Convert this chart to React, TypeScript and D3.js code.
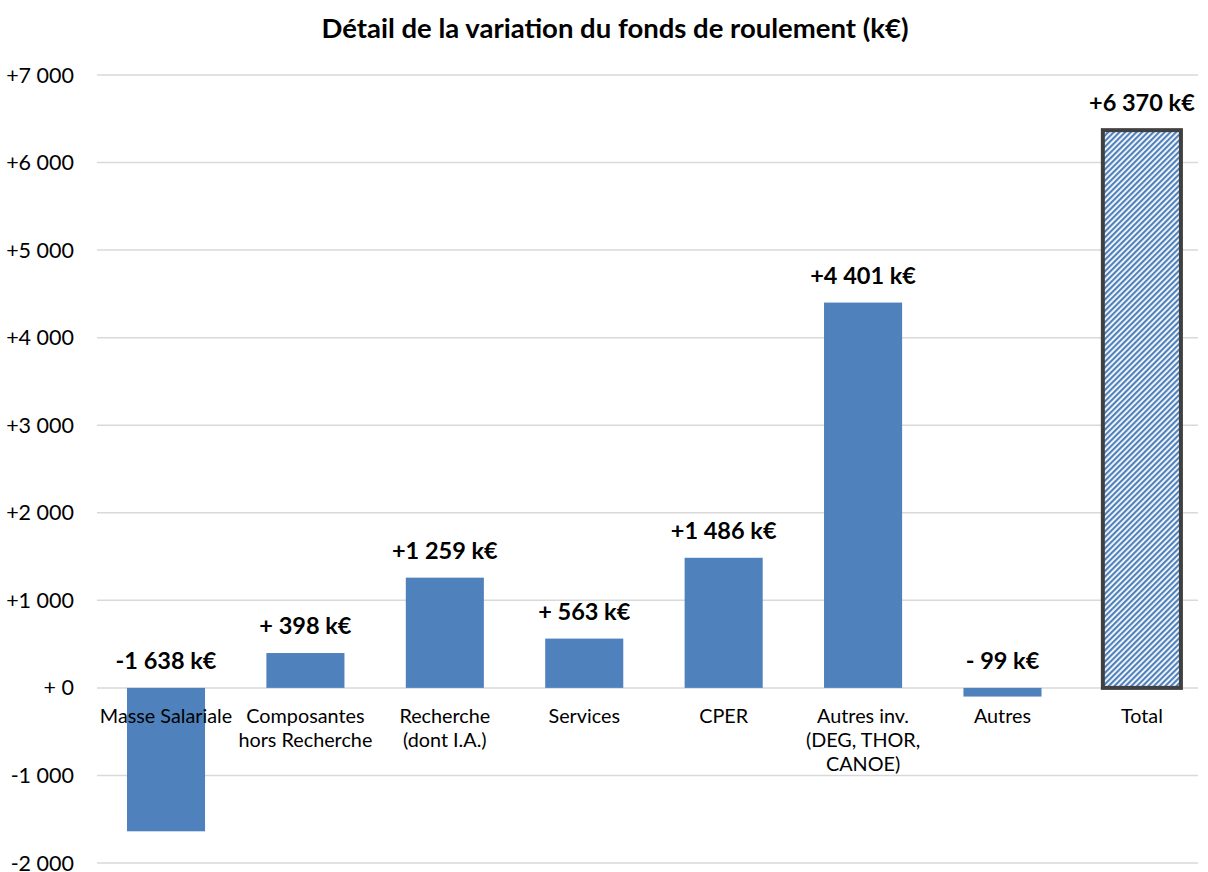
import React from "react";
import * as d3 from "d3";

const categories = ["Masse Salariale", "Composantes hors Recherche", "Recherche (dont I.A.)", "Services", "CPER", "Autres inv. (DEG, THOR, CANOE)", "Autres", "Total"];
const categoryLines = [["Masse Salariale"], ["Composantes", "hors Recherche"], ["Recherche", "(dont I.A.)"], ["Services"], ["CPER"], ["Autres inv.", "(DEG, THOR,", "CANOE)"], ["Autres"], ["Total"]];
const values = [-1638, 398, 1259, 563, 1486, 4401, -99, 6370];
const valueLabels = ["-1 638 k€", "+ 398 k€", "+1 259 k€", "+ 563 k€", "+1 486 k€", "+4 401 k€", "- 99 k€", "+6 370 k€"];
const ticks = [-2000, -1000, 0, 1000, 2000, 3000, 4000, 5000, 6000, 7000];
const tickLabels = ["-2 000", "-1 000", "+ 0", "+1 000", "+2 000", "+3 000", "+4 000", "+5 000", "+6 000", "+7 000"];
const title = "Détail de la variation du fonds de roulement (k€)";

const W = 1208, H = 872;
const gridLeft = 97, gridRight = 1198, top = 75, bottom = 863;
const FONT = "Lato, 'Open Sans', sans-serif";

export default function App() {
  const x = d3.scaleBand<string>().domain(categories).range([96.3, 1211.6]).paddingInner(0.44).paddingOuter(0.22);
  const y = d3.scaleLinear().domain([-2000, 7000]).range([bottom, top]);
  const last = categories.length - 1;
  return (
    <svg width={W} height={H} style={{ position: "absolute", left: 0, top: 0, background: "#fff" }}>
      <defs>
        <pattern id="stripes" patternUnits="userSpaceOnUse" width="4" height="4" patternTransform="rotate(45)">
          <rect width="4" height="4" fill="#ffffff" />
          <rect width="2.2" height="4" fill="#4F81BD" />
        </pattern>
      </defs>
      <text x={615} y={28} dy="0.35em" textAnchor="middle" fontFamily={FONT} fontWeight="bold" fontSize={27.5} fill="#000">{title}</text>
      {ticks.map((t, i) => (
        <g key={t}>
          <line x1={gridLeft} x2={gridRight} y1={y(t)} y2={y(t)} stroke="#d9d9d9" strokeWidth={1.5} />
          <text x={74} y={y(t)} dy="0.35em" textAnchor="end" fontFamily={FONT} fontSize={21.5} fill="#000">{tickLabels[i]}</text>
        </g>
      ))}
      {values.map((v, i) => {
        const c = categories[i];
        const y0 = y(Math.max(0, v));
        const h = Math.abs(y(v) - y(0));
        if (i === last) {
          return (
            <rect key={c} x={x(c)!} y={y0} width={x.bandwidth()} height={h} fill="url(#stripes)" stroke="#404040" strokeWidth={4} />
          );
        }
        return <rect key={c} x={x(c)} y={y0} width={x.bandwidth()} height={h} fill="#4F81BD" />;
      })}
      {values.map((v, i) => {
        const c = categories[i];
        const cx = x(c)! + x.bandwidth() / 2;
        const ly = y(Math.max(0, v)) - 27;
        return (
          <text key={c} x={cx} y={ly} dy="0.35em" textAnchor="middle" fontFamily={FONT} fontWeight="bold" fontSize={23.5} fill="#000">{valueLabels[i]}</text>
        );
      })}
      {categoryLines.map((lines, i) => {
        const c = categories[i];
        const cx = x(c)! + x.bandwidth() / 2;
        return (
          <text key={c} textAnchor="middle" fontFamily={FONT} fontSize={19.8} fill="#000">
            {lines.map((l, j) => (
              <tspan key={j} x={cx} y={716 + j * 24} dy="0.35em">{l}</tspan>
            ))}
          </text>
        );
      })}
    </svg>
  );
}
